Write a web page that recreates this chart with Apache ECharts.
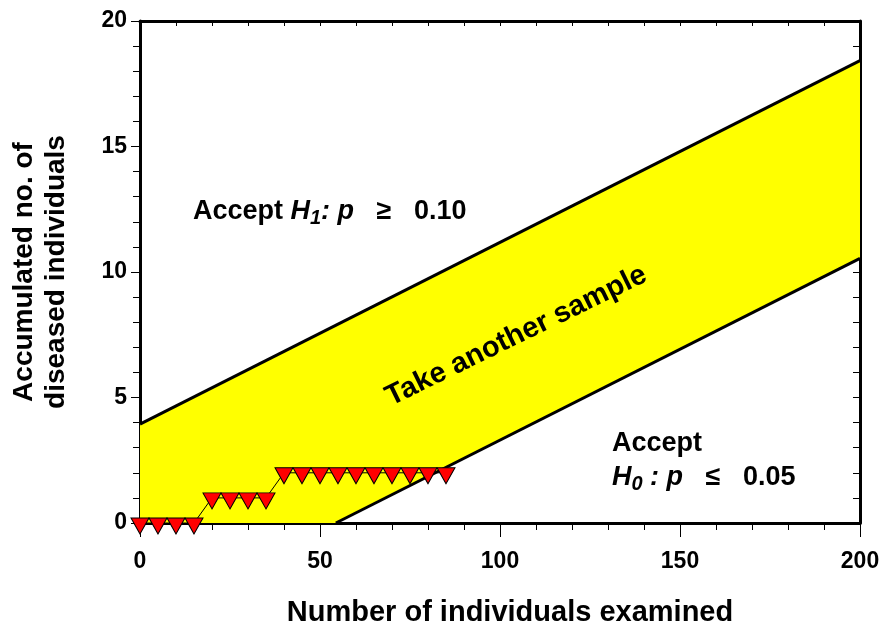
<!DOCTYPE html>
<html>
<head>
<meta charset="utf-8">
<title>Sequential sampling plan</title>
<script src="https://cdn.jsdelivr.net/npm/echarts@6/dist/echarts.min.js"></script>
<style>
  html, body { margin: 0; padding: 0; background: #fff; }
  #chart { width: 882px; height: 625px; }
</style>
</head>
<body>
<div id="chart"></div>
<script>
// Sequential sampling: cumulative number of diseased individuals found
const sampleSizes = [0, 5, 10, 15, 20, 25, 30, 35, 40, 45, 50, 55, 60, 65, 70, 75, 80, 85];
const cumulativeDiseased = [0, 0, 0, 0, 1, 1, 1, 1, 2, 2, 2, 2, 2, 2, 2, 2, 2, 2];

// Decision boundaries (end points of each straight line)
const upperLimit = [[0, 3.94], [200, 18.42]];
const lowerLimit = [[54.4, 0], [200, 10.54]];

// Axis ranges
const xRange = { min: 0, max: 200, interval: 50 };
const yRange = { min: 0, max: 20, interval: 5 };

// Region labels, anchored in data coordinates
const labelH1 = [14.7, 12.36];
const labelAcceptH0 = [131.1, 3.16];
const labelH0 = [131.1, 1.76];
const labelBand = [104.5, 7.45];

const FONT = "'Liberation Sans', Arial, Helvetica, sans-serif";

// Region between the two boundaries, clipped at x = 0 and y = 0
const bandPolygon = [[0, 0], upperLimit[0], upperLimit[1], lowerLimit[1], lowerLimit[0]];

const points = sampleSizes.map((x, i) => [x, cumulativeDiseased[i]]);

const chart = echarts.init(document.getElementById('chart'), null, { renderer: 'canvas' });

const baseText = { fontFamily: FONT, fontWeight: 'bold', fontSize: 27, color: '#000', opacity: 1 };
const richParts = {
  n: { fontFamily: FONT, fontWeight: 'bold', fontSize: 27, color: '#000', lineHeight: 30, verticalAlign: 'top' },
  i: { fontFamily: FONT, fontWeight: 'bold', fontStyle: 'italic', fontSize: 27, color: '#000', lineHeight: 30, verticalAlign: 'top' },
  sub: { fontFamily: FONT, fontWeight: 'bold', fontStyle: 'italic', fontSize: 20, color: '#000', lineHeight: 30, verticalAlign: 'top', padding: [11, 0, 0, 0] }
};

const option = {
  animation: false,
  backgroundColor: '#fff',
  grid: { left: 140, right: 22, top: 21, bottom: 102, containLabel: false, outerBoundsMode: 'none' },
  xAxis: [
    {
      type: 'value', position: 'bottom',
      min: xRange.min, max: xRange.max, interval: xRange.interval,
      name: 'Number of individuals examined',
      nameLocation: 'middle', nameGap: 75,
      nameTextStyle: { fontFamily: FONT, fontWeight: 'bold', fontSize: 29, color: '#000', padding: [0, 0, 0, 20] },
      axisLine: { show: true, onZero: false, lineStyle: { color: '#000', width: 3 } },
      axisTick: { show: true, inside: false, length: 14, lineStyle: { color: '#000', width: 1 } },
      minorTick: { show: true, splitNumber: 5, length: 7, lineStyle: { color: '#000', width: 1 } },
      axisLabel: { margin: 27, fontFamily: FONT, fontWeight: 'bold', fontSize: 23, color: '#000' },
      splitLine: { show: false }
    },
    {
      type: 'value', position: 'top',
      min: xRange.min, max: xRange.max, interval: 10,
      axisLine: { show: true, onZero: false, lineStyle: { color: '#000', width: 3 } },
      axisTick: { show: true, inside: true, length: 5, lineStyle: { color: '#000', width: 1 } },
      axisLabel: { show: false },
      splitLine: { show: false }
    }
  ],
  yAxis: [
    {
      type: 'value', position: 'left',
      min: yRange.min, max: yRange.max, interval: yRange.interval,
      name: 'Accumulated no. of\ndiseased individuals',
      nameLocation: 'middle', nameGap: 68,
      nameTextStyle: { fontFamily: FONT, fontWeight: 'bold', fontSize: 28, color: '#000', lineHeight: 32 },
      axisLine: { show: true, onZero: false, lineStyle: { color: '#000', width: 3 } },
      axisTick: { show: true, inside: false, length: 9, lineStyle: { color: '#000', width: 1 } },
      minorTick: { show: true, splitNumber: 5, length: 7, lineStyle: { color: '#000', width: 1 } },
      axisLabel: { margin: 13, fontFamily: FONT, fontWeight: 'bold', fontSize: 23, color: '#000' },
      splitLine: { show: false }
    },
    {
      type: 'value', position: 'right',
      min: yRange.min, max: yRange.max, interval: 1,
      axisLine: { show: true, onZero: false, lineStyle: { color: '#000', width: 3 } },
      axisTick: { show: true, inside: true, length: 7, lineStyle: { color: '#000', width: 1 } },
      axisLabel: { show: false },
      splitLine: { show: false }
    }
  ],
  series: [
    {
      // yellow "continue sampling" band
      type: 'custom',
      z: 1,
      silent: true,
      data: [0],
      renderItem: function (params, api) {
        const pts = bandPolygon.map(p => api.coord(p));
        return { type: 'polygon', shape: { points: pts }, style: { fill: '#ffff00', stroke: null } };
      }
    },
    {
      type: 'line', z: 3, data: upperLimit, symbol: 'none',
      lineStyle: { color: '#000', width: 3 }, silent: true
    },
    {
      type: 'line', z: 3, data: lowerLimit, symbol: 'none',
      lineStyle: { color: '#000', width: 3 }, silent: true
    },
    {
      type: 'line', z: 5, data: points, clip: false,
      symbol: 'triangle', symbolSize: [18, 16], symbolRotate: 180, symbolOffset: [0, 3],
      itemStyle: { color: '#ff0000', borderColor: '#000', borderWidth: 1 },
      lineStyle: { color: '#000', width: 1 }
    },
    {
      // text annotations
      type: 'scatter', z: 6, symbolSize: 0, silent: true, clip: false,
      itemStyle: { opacity: 1 },
      data: [
        {
          value: labelH1,
          label: {
            show: true, position: [0, 0], align: 'left', verticalAlign: 'middle', opacity: 1,
            formatter: '{n|Accept }{i|H}{sub|1}{i|: p}{n|   ≥   0.10}', rich: richParts
          }
        },
        {
          value: labelAcceptH0,
          label: {
            show: true, position: [0, 0], align: 'left', verticalAlign: 'middle',
            formatter: 'Accept', ...baseText
          }
        },
        {
          value: labelH0,
          label: {
            show: true, position: [0, 0], align: 'left', verticalAlign: 'middle', opacity: 1,
            formatter: '{i|H}{sub|0}{i| : p}{n|   ≤   0.05}', rich: richParts
          }
        },
        {
          value: labelBand,
          label: {
            show: true, position: [0, 0], align: 'center', verticalAlign: 'middle',
            rotate: 26, formatter: 'Take another sample', ...baseText, fontSize: 29
          }
        }
      ]
    }
  ]
};

chart.setOption(option);
</script>
</body>
</html>
